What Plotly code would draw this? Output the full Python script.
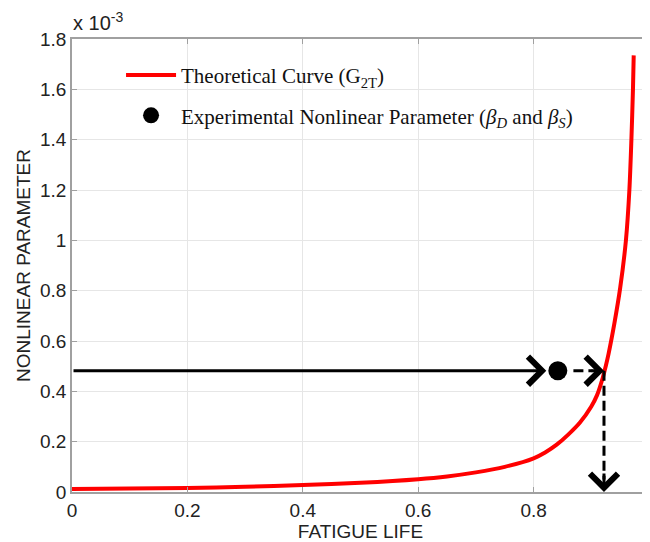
import plotly.graph_objects as go

# Theoretical curve (values in units of 1e-3)
fatigue_life = [0, 0.1, 0.2, 0.3, 0.4, 0.5, 0.6, 0.65, 0.7, 0.75, 0.8, 0.82, 0.84,
                0.86, 0.88, 0.90, 0.91, 0.92, 0.925, 0.93, 0.94, 0.95, 0.96, 0.966,
                0.9695, 0.9722, 0.9735]
g2t = [0.012, 0.014, 0.016, 0.021, 0.028, 0.037, 0.051, 0.062, 0.078, 0.100, 0.134, 0.157, 0.188,
       0.228, 0.275, 0.34, 0.385, 0.455, 0.50, 0.55, 0.67, 0.81, 1.0, 1.2,
       1.4, 1.6, 1.735]

# Experimental nonlinear parameter
exp_x = [0.842]
exp_y = [0.482]

# Arrow construction (data coordinates)
arrow_level = 0.482
solid_arrow_x = [0.0, 0.822]
dashed_arrow_x = [0.869, 0.922]
drop_arrow_x = 0.922
drop_arrow_y = [0.482, 0.0]

x_ticks = [0, 0.2, 0.4, 0.6, 0.8, 1.0]
x_ticktext = ["0", "0.2", "0.4", "0.6", "0.8", "1"]
y_ticks = [0, 0.2, 0.4, 0.6, 0.8, 1.0, 1.2, 1.4, 1.6, 1.8]
y_ticktext = ["0", "0.2", "0.4", "0.6", "0.8", "1", "1.2", "1.4", "1.6", "1.8"]

sans = "Liberation Sans, Arial, sans-serif"
serif = "Liberation Serif, Times New Roman, serif"

fig = go.Figure()

fig.add_trace(go.Scatter(
    x=fatigue_life, y=g2t, mode="lines",
    line=dict(color="#ff0000", width=4, shape="spline", smoothing=0.8),
    name="Theoretical Curve (G<sub>2T</sub>)", legendgroup="a"))

# dashed segments
fig.add_trace(go.Scatter(
    x=[dashed_arrow_x[0], dashed_arrow_x[1] - 0.02], y=[arrow_level, arrow_level],
    mode="lines", line=dict(color="black", width=3, dash="10px,5px"),
    showlegend=False, hoverinfo="skip"))
fig.add_trace(go.Scatter(
    x=[drop_arrow_x, drop_arrow_x], y=[drop_arrow_y[0], drop_arrow_y[1] + 0.05],
    mode="lines", line=dict(color="black", width=3, dash="10px,5px"),
    showlegend=False, hoverinfo="skip"))

fig.add_trace(go.Scatter(
    x=exp_x, y=exp_y, mode="markers",
    marker=dict(color="black", size=19, symbol="circle"),
    name="Experimental Nonlinear Parameter (<i>β</i><sub><i>D</i></sub> and <i>β</i><sub><i>S</i></sub>)",
    legendgroup="b"))

# arrows
arrow_style = dict(xref="x", yref="y", text="", showarrow=True,
                   arrowhead=4, arrowwidth=3, arrowsize=1.8, arrowcolor="black")
fig.add_annotation(x=solid_arrow_x[1], y=arrow_level, ax=solid_arrow_x[0], ay=arrow_level,
                   axref="x", ayref="y", **arrow_style)
fig.add_annotation(x=dashed_arrow_x[1], y=arrow_level, ax=-14, ay=0, **arrow_style)
fig.add_annotation(x=drop_arrow_x, y=drop_arrow_y[1], ax=0, ay=-20, **arrow_style)

fig.add_annotation(x=0, y=1, xref="paper", yref="paper", xanchor="left", yanchor="bottom",
                   text="x 10<sup>-3</sup>", showarrow=False, yshift=3, xshift=-1,
                   font=dict(family=sans, size=20, color="#222222"))

axis_common = dict(
    showgrid=True, gridcolor="#e6e6e6", gridwidth=1,
    showline=True, linecolor="#a0a0a0", linewidth=1.5, mirror="ticks",
    ticks="inside", ticklen=5, tickcolor="#a0a0a0",
    tickfont=dict(family=sans, size=19, color="#222222"),
    zeroline=False, automargin=False,
)

fig.update_layout(
    width=642, height=534,
    margin=dict(l=64, r=1, t=31, b=50),
    paper_bgcolor="white", plot_bgcolor="white",
    xaxis=dict(range=[0, 1], tickvals=x_ticks, ticktext=x_ticktext,
               title=dict(text="FATIGUE LIFE", font=dict(family=sans, size=19, color="#222222"), standoff=0),
               **axis_common),
    yaxis=dict(range=[0, 1.8], tickvals=y_ticks, ticktext=y_ticktext,
               title=dict(text="NONLINEAR PARAMETER", font=dict(family=sans, size=19, color="#222222"), standoff=4),
               **axis_common),
    legend=dict(x=0.085, y=0.965, xanchor="left", yanchor="top",
                bgcolor="rgba(0,0,0,0)", font=dict(family=serif, size=21, color="#111111"),
                traceorder="grouped", tracegroupgap=10, itemwidth=50),
    showlegend=True,
)

fig.write_html("out.html")
